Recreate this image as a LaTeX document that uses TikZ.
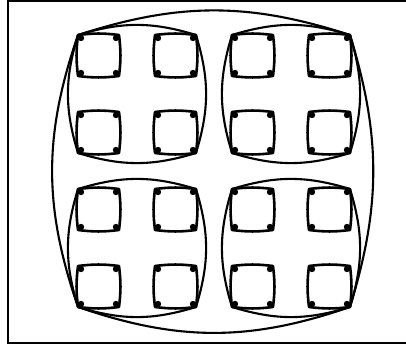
\documentclass[tikz,border=0pt]{standalone}
\begin{document}
\begin{tikzpicture}[x=1pt, y=-1pt,
    cell/.style={line width=2.6pt, line join=round},
    blob/.style={fill=black},
    shell/.style={line width=2.1pt}]
  \useasboundingbox (0,0) rectangle (406,347);
  % frame, open on the right
  \draw[line width=1.3pt] (406,1) -- (8,1) -- (8,343) -- (406,343);
  % small cells with corner blobs
  \foreach \cx in {78,155,232,309}
    \foreach \cy in {35,112,189,266} {
      \draw[cell] (\cx,\cy) to[bend left=7] (\cx+41,\cy) to[bend left=7] (\cx+41,\cy+41)
        to[bend left=7] (\cx,\cy+41) to[bend left=7] cycle;
      \fill[blob] (\cx+3,\cy+3) circle (3.2) (\cx+38,\cy+3) circle (3.2)
        (\cx+38,\cy+38) circle (3.2) (\cx+3,\cy+38) circle (3.2);
    }
  % quadrant shells
  \foreach \qx in {78,232}
    \foreach \qy in {35,189}
      \draw[shell] (\qx,\qy) to[bend left=17] (\qx+118,\qy) to[bend left=17] (\qx+118,\qy+118)
        to[bend left=17] (\qx,\qy+118) to[bend left=17] cycle;
  % outer shell
  \draw[shell] (78,35) to[bend left=18] (350,35) to[bend left=17] (350,307)
    to[bend left=19] (78,307) to[bend left=19] cycle;
\end{tikzpicture}
\end{document}
